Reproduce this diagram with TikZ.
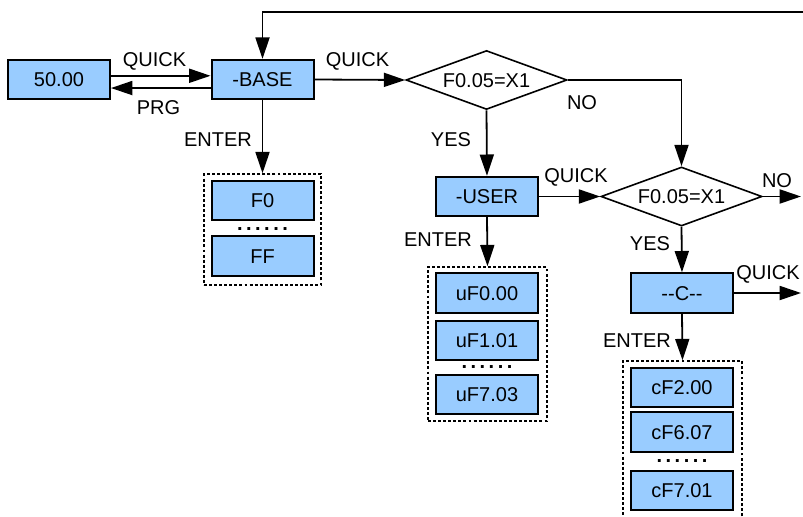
\documentclass[tikz,border=0pt]{standalone}
\usepackage{fontspec}
\setmainfont{Liberation Sans}
\usetikzlibrary{shapes.geometric,arrows.meta}
\definecolor{boxblue}{HTML}{99CCFF}
\tikzset{
  every node/.style={font=\fontsize{15}{18}\selectfont, text height=10.7pt, text depth=0pt, inner sep=0pt},
  bluebox/.style={draw, line width=1.5pt, fill=boxblue, minimum width=76.5pt, minimum height=29.5pt},
  decision/.style={draw, line width=1.2pt, diamond, aspect=2.73, minimum width=120.75pt, minimum height=44.25pt, fill=white},
  groupbox/.style={draw, line width=1.1pt, dash pattern=on 2.2pt off 1.6pt},
  conn/.style={line width=1.35pt, -{Triangle[length=16pt, width=10.5pt]}},
  lbl/.style={},
  dotrow/.style={text height=2pt, anchor=base}
}
\newcommand{\dotsrow}{\textbf{.}\hspace{2.6pt}\textbf{.}\hspace{2.6pt}\textbf{.}\hspace{2.6pt}\textbf{.}\hspace{2.6pt}\textbf{.}\hspace{2.6pt}\textbf{.}}
\begin{document}
\begin{tikzpicture}[x=0.75pt, y=-0.75pt]
\clip (0,0) rectangle (803,517);
\useasboundingbox (0,0) rectangle (803,517);

% main boxes
\node[bluebox] (n50) at (59,79.5) {50.00};
\node[bluebox] (base) at (262.5,79.5) {-BASE};
\node[decision] (d1) at (486.5,80) {F0.05=X1};
\node[bluebox] (user) at (487,196.5) {-USER};
\node[decision] (d2) at (681.5,196.5) {F0.05=X1};
\node[bluebox] (cc) at (682,293) {-{}-C-{}-};

% group boxes
\node[groupbox, minimum width=87.75pt, minimum height=83.25pt] (fgrp) at (262.5,229.5) {};
\node[groupbox, minimum width=89.25pt, minimum height=115.5pt] (ugrp) at (487.5,344) {};
\node[groupbox, minimum width=89.25pt, minimum height=126pt] (cgrp) at (682.5,445) {};

% group contents
\node[bluebox] (f0) at (262.5,200.5) {F0};
\node[dotrow] (fdots) at (262.5,230.5) {\dotsrow};
\node[bluebox] (ff) at (262.5,256) {FF};

\node[bluebox] (u0) at (487,293) {uF0.00};
\node[bluebox] (u1) at (487,340.5) {uF1.01};
\node[dotrow] (udots) at (487,368.5) {\dotsrow};
\node[bluebox] (u7) at (487,394.5) {uF7.03};

\node[bluebox] (c2) at (682,387.5) {cF2.00};
\node[bluebox] (c6) at (682,432) {cF6.07};
\node[dotrow] (cdots) at (682,462.5) {\dotsrow};
\node[bluebox] (c7) at (682,490.5) {cF7.01};

% free ends
\coordinate (topR) at (803,12);
\coordinate (d2out) at (801,196.5);
\coordinate (ccout) at (801,293);

% connectors
\draw[conn] (topR) -| (base.north);
\draw[conn] ([yshift=2.8pt]n50.east) -- ([yshift=2.8pt]base.west);
\draw[conn] ([yshift=-6.4pt]base.west) -- ([yshift=-6.4pt]n50.east);
\draw[conn] (base.east) -- (d1.west);
\draw[conn] (base.south) -- (fgrp.north);
\draw[conn] (d1.east) -| (d2.north);
\draw[conn] (d1.south) -- (user.north);
\draw[conn] (user.east) -- (d2.west);
\draw[conn] (user.south) -- (ugrp.north);
\draw[conn] (d2.east) -- (d2out);
\draw[conn] (d2.south) -- (cc.north);
\draw[conn] (cc.east) -- (ccout);
\draw[conn] (cc.south) -- (cgrp.north);

% labels
\node[lbl] (lq1) at (154.5,59) {QUICK};
\node[lbl] (lprg) at (158.5,107) {PRG};
\node[lbl] (lq2) at (357.5,59) {QUICK};
\node[lbl] (le1) at (218,139.5) {ENTER};
\node[lbl] (lno1) at (582,102.5) {NO};
\node[lbl] (ly1) at (451,139) {YES};
\node[lbl] (lq3) at (576,175.5) {QUICK};
\node[lbl] (lno2) at (777,180) {NO};
\node[lbl] (ly2) at (650,243) {YES};
\node[lbl] (le2) at (438,239.5) {ENTER};
\node[lbl] (lq4) at (768,272) {QUICK};
\node[lbl] (le3) at (637,340) {ENTER};
\end{tikzpicture}
\end{document}
